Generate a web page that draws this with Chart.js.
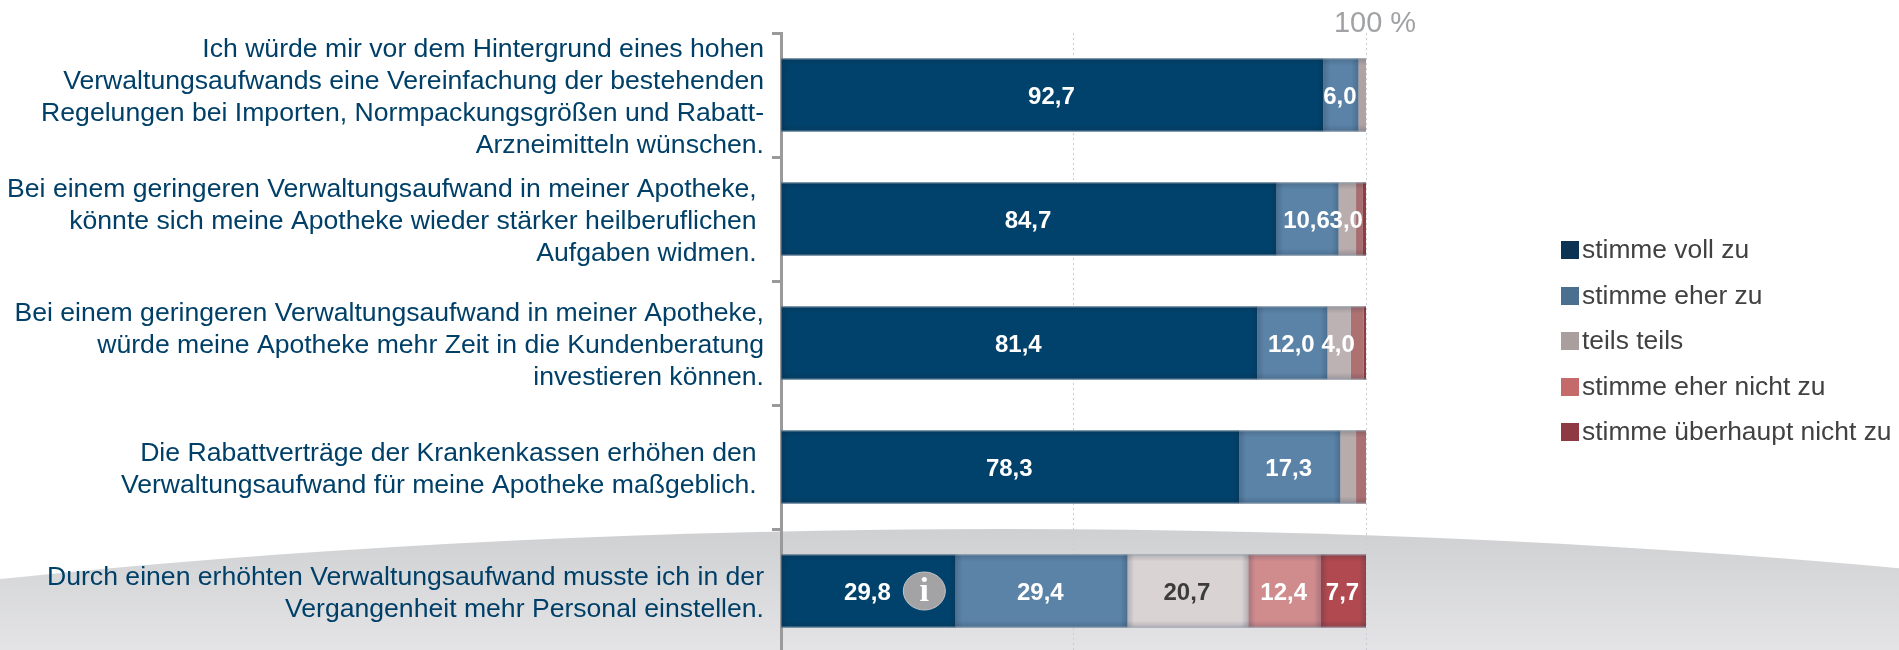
<!doctype html>
<html lang="de">
<head>
    <meta charset="utf-8">
    <title>Verwaltungsaufwand</title>
    <script src="https://cdn.jsdelivr.net/npm/chart.js@4/dist/chart.umd.min.js"></script>
    <style>
        html, body{ margin: 0; background: #fff; overflow: hidden; width: 1899px; height: 650px; }
        body{ position: relative; font-family: 'Liberation Sans', Arial, sans-serif; }
        #myChart{ position: absolute; left: 0; top: 0; }
        #legend{ position: absolute; left: 1561px; top: 227px; }
        #legend div{ height: 45.5px; line-height: 45.5px; font-size: 26.4px; color: #414141; white-space: nowrap; }
        #legend i{ display: inline-block; width: 18px; height: 18px; margin-right: 3px; vertical-align: -1px; }
    </style>
</head>
<body>
    <canvas id="myChart"></canvas>
    <div id="legend"></div>
    <script>
        const categories = [
            ["Ich würde mir vor dem Hintergrund eines hohen", "Verwaltungsaufwands eine Vereinfachung der bestehenden", "Regelungen bei Importen, Normpackungsgrößen und Rabatt-", "Arzneimitteln wünschen."],
            ["Bei einem geringeren Verwaltungsaufwand in meiner Apotheke,\u00A0", "könnte sich meine Apotheke wieder stärker heilberuflichen\u00A0", "Aufgaben widmen.\u00A0"],
            ["Bei einem geringeren Verwaltungsaufwand in meiner Apotheke,", "würde meine Apotheke mehr Zeit in die Kundenberatung", "investieren können."],
            ["Die Rabattverträge der Krankenkassen erhöhen den\u00A0", "Verwaltungsaufwand für meine Apotheke maßgeblich.\u00A0"],
            ["Durch einen erhöhten Verwaltungsaufwand musste ich in der", "Vergangenheit mehr Personal einstellen."]
        ];
        const seriesNames = ["stimme voll zu", "stimme eher zu", "teils teils", "stimme eher nicht zu", "stimme überhaupt nicht zu"];
        const volZu = [92.7, 84.7, 81.4, 78.3, 29.8];
        const eherZu = [6.0, 10.6, 12.0, 17.3, 29.4];
        const teils = [1.3, 3.0, 4.0, 2.7, 20.7];
        const eherNicht = [0, 1.1, 2.2, 1.7, 12.4];
        const garNicht = [0, 0.6, 0.4, 0, 7.7];
        const barColors = ["#01426c", "#5a83a7", "#dad3d4", "#d08b8d", "#b04a50"];
        const legendColors = ["#0b3354", "#4a6f8f", "#a89f9e", "#c46a6a", "#8f3a42"];
        const xTicks = [0, 50, 100];

        // grey hill behind the last row
        const backdrop = {
            id: "backdrop",
            beforeDraw(chart){
                let ctx = chart.ctx;
                let grad = ctx.createLinearGradient(0, 529, 0, 650);
                grad.addColorStop(0, "#cfd0d2");
                grad.addColorStop(1, "#e4e4e6");
                ctx.save();
                ctx.fillStyle = grad;
                ctx.beginPath();
                ctx.ellipse(1005, 1129, 2513, 600, 0, 0, Math.PI * 2);
                ctx.fill();
                ctx.restore();
            }
        };

        let edge = (ctx, x0, y0, x1, y1, rx, ry, rw, rh, alpha) => {
            let g = ctx.createLinearGradient(x0, y0, x1, y1);
            g.addColorStop(0, "rgba(20,30,50," + alpha + ")");
            g.addColorStop(1, "rgba(20,30,50,0)");
            ctx.fillStyle = g;
            ctx.fillRect(rx, ry, rw, rh);
        };

        // inner shading of the bars, value labels and the info icon
        const barDecor = {
            id: "barDecor",
            afterDatasetsDraw(chart){
                let ctx = chart.ctx;
                ctx.save();
                chart.data.datasets.forEach((ds, i) => {
                    chart.getDatasetMeta(i).data.forEach((el) => {
                        let w = el.x - el.base;
                        if (w < 0.5) return;
                        let top = el.y - el.height / 2, bottom = el.y + el.height / 2;
                        let s = Math.min(7, w / 2), a = 0.2;
                        if (w < 30) {
                            ctx.fillStyle = "rgba(60,30,30," + (0.3 - w * 0.005) + ")";
                            ctx.fillRect(el.base, top, w, el.height);
                        } else {
                            edge(ctx, el.base, 0, el.base + s, 0, el.base, top, s, el.height, a);
                            edge(ctx, el.x, 0, el.x - s, 0, el.x - s, top, s, el.height, a);
                        }
                        edge(ctx, 0, top, 0, top + 7, el.base, top, w, 7, a);
                        edge(ctx, 0, bottom, 0, bottom - 7, el.base, bottom - 7, w, 7, a);
                        ctx.fillStyle = "rgba(150,165,178,0.8)";
                        ctx.fillRect(el.base, top, w, 1);
                        ctx.fillRect(el.base, bottom - 1, w, 1);
                    });
                });
                ctx.textAlign = "center";
                ctx.textBaseline = "middle";
                ctx.font = "bold 24px 'Liberation Sans'";
                chart.data.datasets.forEach((ds, i) => {
                    chart.getDatasetMeta(i).data.forEach((el, j) => {
                        let v = ds.data[j];
                        if (v < 3) return;
                        ctx.fillStyle = (i === 2 && v > 10) ? "#3c3c3c" : "#fff";
                        ctx.fillText(v.toFixed(1).replace(".", ","), (el.x + el.base) / 2 - 1, el.y + 2);
                    });
                });
                let last = chart.getDatasetMeta(0).data[4];
                let ix = last.x - 31, iy = last.y;
                ctx.fillStyle = "#a3a3a5";
                ctx.strokeStyle = "#c4c4c6";
                ctx.lineWidth = 1;
                ctx.beginPath();
                ctx.ellipse(ix, iy, 21, 19, 0, 0, Math.PI * 2);
                ctx.fill();
                ctx.stroke();
                ctx.fillStyle = "#fff";
                ctx.font = "bold 34px 'Liberation Serif'";
                ctx.fillText("i", ix, iy + 1);
                ctx.restore();
            }
        };

        let showChart = () => {
            let values = [volZu, eherZu, teils, eherNicht, garNicht];
            let canvas = document.getElementById("myChart");
            canvas.width = 1899;
            canvas.height = 670;
            let myChart = new Chart(canvas, {
                type: "bar",
                data: {
                    labels: categories,
                    datasets: seriesNames.map((name, i) => ({
                        label: name,
                        data: values[i],
                        backgroundColor: barColors[i],
                        barPercentage: 0.59,
                        categoryPercentage: 1
                    }))
                },
                options: {
                    indexAxis: "y",
                    responsive: false,
                    animation: false,
                    layout: { padding: { top: 0, left: 0, right: 533, bottom: 17 } },
                    plugins: { legend: { display: false }, tooltip: { enabled: false } },
                    scales: {
                        x: {
                            position: "top",
                            stacked: true,
                            min: 0,
                            max: 100,
                            afterBuildTicks: (scale) => { scale.ticks = xTicks.map(v => ({ value: v })); },
                            afterFit: (scale) => {
                                scale.height = 33;
                                scale.paddingLeft = 0;
                                scale.paddingRight = 0;
                            },
                            border: { display: false, dash: [2, 3] },
                            grid: { color: "#c9ccd0", lineWidth: 1, drawTicks: false },
                            ticks: {
                                maxRotation: 0,
                                autoSkip: false,
                                padding: -8,
                                labelOffset: 9,
                                color: "#a0a2a5",
                                font: { family: "'Liberation Sans'", size: 29 },
                                callback: (v) => v === 100 ? "100 %" : ""
                            }
                        },
                        y: {
                            stacked: true,
                            afterFit: (scale) => {
                                scale.width = 781;
                                scale.paddingTop = 0;
                                scale.paddingBottom = 0;
                            },
                            border: { color: "#9a9a9a", width: 3 },
                            grid: { drawOnChartArea: false, offset: true, tickLength: 9, tickWidth: 3, tickColor: "#9a9a9a" },
                            ticks: {
                                autoSkip: false,
                                padding: 8,
                                labelOffset: 2.5,
                                color: "#004068",
                                font: { family: "'Liberation Sans'", size: 26.6, lineHeight: 1.2 }
                            }
                        }
                    }
                },
                plugins: [backdrop, barDecor]
            });
            return myChart;
        };

        let showLegend = () => {
            let box = document.getElementById("legend");
            seriesNames.forEach((name, i) => {
                let row = document.createElement("div");
                let swatch = document.createElement("i");
                swatch.style.background = legendColors[i];
                row.appendChild(swatch);
                row.appendChild(document.createTextNode(name));
                box.appendChild(row);
            });
        };

        showChart();
        showLegend();
    </script>
</body>
</html>
